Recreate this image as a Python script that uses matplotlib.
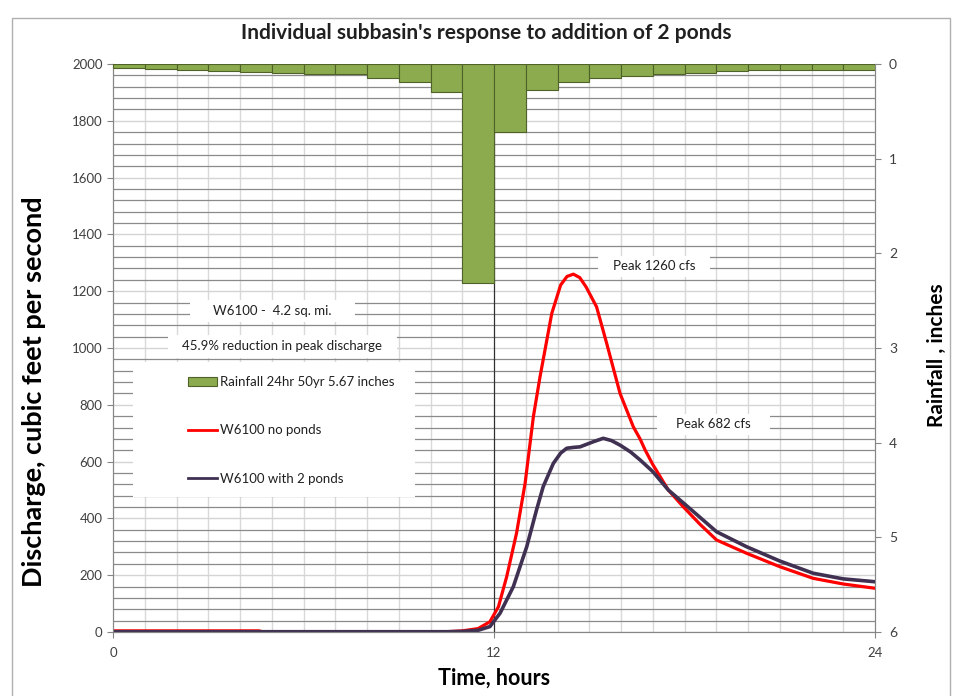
import numpy as np
import matplotlib
matplotlib.use('Agg')
import matplotlib.pyplot as plt
from matplotlib.patches import Rectangle, Patch
from matplotlib.lines import Line2D
from matplotlib.ticker import MultipleLocator, FixedLocator

plt.rcParams['font.family'] = ['Lato', 'DejaVu Sans']

# hourly rainfall (inches), bar i spans hour i..i+1
rain_hours = np.arange(24)
rain_in = [0.045, 0.056, 0.063, 0.07, 0.08, 0.092, 0.106, 0.11, 0.145, 0.186, 0.30, 2.31,
           0.72, 0.27, 0.186, 0.145, 0.123, 0.11, 0.1, 0.074, 0.063, 0.063, 0.063, 0.063]

# W6100 no ponds, discharge cfs
t_red = [0, 4.6, 4.7, 10.5, 11.0, 11.5, 11.87, 12.14, 12.4, 12.71, 12.98, 13.24, 13.45,
         13.82, 14.1, 14.3, 14.5, 14.7, 14.9, 15.23, 15.55, 15.97, 16.39, 16.6, 16.76,
         17.0, 17.49, 17.96, 18.5, 19.01, 19.96, 21.0, 22.05, 23.0, 24.0]
q_red = [4, 4, 1, 1, 4, 12, 36, 89, 195, 348, 524, 758, 899,
         1122, 1222, 1252, 1260, 1248, 1215, 1145, 1016, 840, 722, 680, 641,
         590, 500, 441, 378, 324, 277, 230, 189, 169, 154]

# W6100 with 2 ponds, discharge cfs
t_pur = [0, 10.5, 11.0, 11.5, 11.87, 12.19, 12.61, 13.03, 13.34, 13.55, 13.87, 14.1,
         14.29, 14.5, 14.71, 15.13, 15.44, 15.7, 15.97, 16.3, 16.6, 17.0, 17.49, 17.96,
         19.01, 19.96, 21.0, 22.05, 23.0, 24.0]
q_pur = [1, 1, 2, 6, 19, 66, 160, 300, 430, 512, 594, 630,
         647, 650, 652, 670, 682, 674, 658, 634, 606, 565, 500, 455,
         353, 300, 250, 207, 187, 177]

x_ticks = [0, 12, 24]
q_ticks = np.arange(0, 2001, 200)
rain_ticks = np.arange(0, 7)

green = '#8CAA4E'
green_edge = '#4F6228'
purple = '#403152'
tick_col = '#404040'

fig = plt.figure(figsize=(9.54, 6.96), dpi=100)

# outer chart border
fig.patches.append(Rectangle((12 / 954, -0.01), 938 / 954, 1 - 18 / 696 + 0.01,
                             transform=fig.transFigure, facecolor='none',
                             edgecolor='#b0b0b0', lw=1))

L, R, T, B = 113, 875, 64, 632
ax = fig.add_axes([L / 954, 1 - B / 696, (R - L) / 954, (B - T) / 696])


def px(x, y):
    # pixel position -> axes fraction
    return (x - L) / (R - L), (B - y) / (B - T)


ax.set_xlim(0, 24)
ax.set_ylim(0, 2000)
ax.xaxis.set_major_locator(FixedLocator(x_ticks))
ax.xaxis.set_minor_locator(MultipleLocator(1))
ax.yaxis.set_major_locator(FixedLocator(q_ticks))
ax.yaxis.set_minor_locator(MultipleLocator(40))
ax.grid(which='minor', axis='y', color='#8a8a8a', lw=0.9)
ax.grid(which='major', axis='y', color='#d4d4d4', lw=1.0)
ax.grid(which='minor', axis='x', color='#d9d9d9', lw=1.0)
ax.set_axisbelow(True)
# middle category line sits over the horizontal grid
ax.axvline(x_ticks[1], color='#303030', lw=0.9, zorder=1.5)
ax.tick_params(which='minor', length=0)
ax.tick_params(which='major', length=4, color='#868686', labelsize=9.5, labelcolor=tick_col)
ax.tick_params(axis='x', pad=7)
for s in ['left', 'bottom', 'right']:
    ax.spines[s].set_color('#868686')
ax.spines['top'].set_visible(False)

ax.plot(t_red, q_red, color='#FF0000', lw=2.3, zorder=4, solid_joinstyle='round')
ax.plot(t_pur, q_pur, color=purple, lw=2.6, zorder=5, solid_joinstyle='round')

ax.set_xlabel('Time, hours', fontsize=15.5, fontweight='bold', labelpad=6)
ax.set_ylabel('Discharge, cubic feet per second', fontsize=19.5, fontweight='bold')
ax.yaxis.set_label_coords(*px(46, 392))

ax2 = ax.twinx()
ax2.set_ylim(6, 0)
ax2.yaxis.set_major_locator(FixedLocator(rain_ticks))
ax2.bar(rain_hours, rain_in, width=1, align='edge', color=green, edgecolor=green_edge,
        lw=0.8, zorder=3)
ax2.tick_params(length=4, color='#868686', labelsize=10, labelcolor=tick_col, pad=6)
for s in ['left', 'bottom', 'right']:
    ax2.spines[s].set_color('#868686')
ax2.spines['top'].set_visible(False)
ax2.set_ylabel('Rainfall , inches', fontsize=15, fontweight='bold')
ax2.yaxis.set_label_coords(*px(927, 355))

# text boxes
boxes = [
    ((190, 300, 355, 322), 'W6100 -  4.2 sq. mi.'),
    ((168, 335, 397, 358), '45.9% reduction in peak discharge'),
    ((598, 256, 710, 277), 'Peak 1260 cfs'),
    ((657, 414, 770, 435), 'Peak 682 cfs'),
]
for (x0, y0, x1, y1), txt in boxes:
    ax0, ay1 = px(x0, y1)
    ax1_, ay0 = px(x1, y0)
    ax2.add_patch(Rectangle((ax0, ay1), ax1_ - ax0, ay0 - ay1, transform=ax2.transAxes,
                            facecolor='white', edgecolor='none', zorder=6))
    cx, cy = px((x0 + x1) / 2, (y0 + y1) / 2)
    ax2.text(cx, cy, txt, transform=ax2.transAxes, ha='center', va='center',
             fontsize=9.5, color='#202020', zorder=7)

# legend area
lx0, ly1 = px(133, 497)
lx1, ly0 = px(415, 362)
ax2.add_patch(Rectangle((lx0, ly1), lx1 - lx0, ly0 - ly1, transform=ax2.transAxes,
                        facecolor='white', edgecolor='none', zorder=6))
handles = [Patch(facecolor=green, edgecolor=green_edge, lw=0.8),
           Line2D([], [], color='#FF0000', lw=2),
           Line2D([], [], color=purple, lw=2)]
labels = ['Rainfall 24hr 50yr 5.67 inches', 'W6100 no ponds', 'W6100 with 2 ponds']
leg = ax2.legend(handles, labels, loc='upper left', bbox_to_anchor=px(188, 376),
                 frameon=False, fontsize=9.5, handlelength=2.2, handleheight=0.6,
                 handletextpad=0.2, labelspacing=2.75, borderpad=0, borderaxespad=0)
leg.set_zorder(8)
for t in leg.get_texts():
    t.set_color('#202020')

fig.text(486 / 954, 1 - 33 / 696, "Individual subbasin's response to addition of 2 ponds",
         ha='center', va='center', fontsize=15, fontweight='bold', color='#202020')

fig.savefig('out.png', dpi=100)
